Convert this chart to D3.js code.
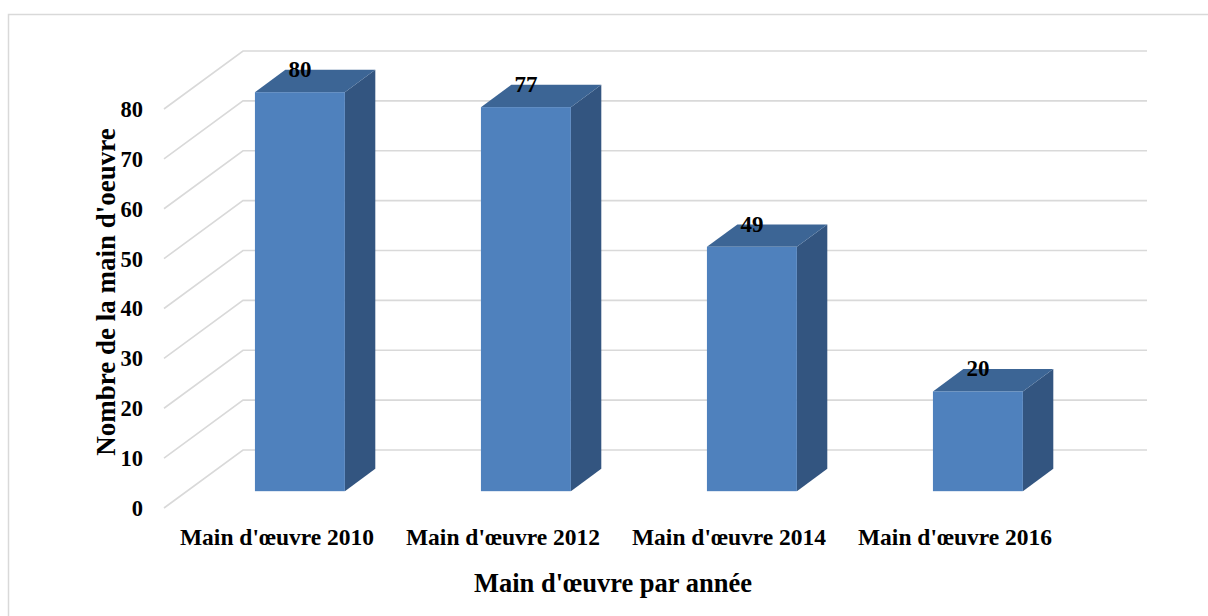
<!DOCTYPE html>
<html>
<head>
<meta charset="utf-8">
<script src="https://cdn.jsdelivr.net/npm/d3@7"></script>
<style>
  html, body { margin: 0; padding: 0; background: #fff; }
  svg { display: block; }
  text { font-family: "Liberation Serif", "Times New Roman", serif; font-weight: bold; fill: #000; }
</style>
</head>
<body>
<svg id="chart" width="1208" height="616"></svg>
<script>
const categories = ["Main d'œuvre 2010", "Main d'œuvre 2012", "Main d'œuvre 2014", "Main d'œuvre 2016"];
const values = [80, 77, 49, 20];
const tickValues = [0, 10, 20, 30, 40, 50, 60, 70, 80];
const yTitle = "Nombre de la main d'oeuvre";
const xTitle = "Main d'œuvre par année";

const W = 1208, H = 616;
const svg = d3.select("#chart");

// outer chart frame
svg.append("rect").attr("x", 8.5).attr("y", 14.5).attr("width", W).attr("height", H)
  .attr("fill", "none").attr("stroke", "#d9d9d9").attr("stroke-width", 1.5);

// 3D projection: depth offset
const DX = 79, DY = -58;
const floorLeft = 164, wallRight = 1147;
const y = d3.scaleLinear().domain([0, 80]).range([508, 109]);
const x = d3.scaleBand().domain(categories).range([floorLeft, wallRight - DX]).padding(0);
const proj = (px, py, z) => [px + z * DX, py + z * DY];

const grid = svg.append("g");
tickValues.forEach(v => {
  const [bx, by] = proj(floorLeft, y(v), 1);
  grid.append("path")
    .attr("d", d3.line()([[floorLeft, y(v)], [bx, by], [wallRight, by]]))
    .attr("fill", "none").attr("stroke", "#d9d9d9").attr("stroke-width", 1.6);
});

// y tick labels
svg.append("g").selectAll("text").data(tickValues).join("text")
  .attr("x", 143).attr("y", d => y(d)).attr("dy", "0.35em")
  .attr("text-anchor", "end").attr("font-size", 22.5).text(d => d);

// bars
const z0 = 0.29, z1 = 0.675;
const barFrac = 0.398;
const bw = x.bandwidth() * barFrac;
const bars = svg.append("g");
categories.forEach((c, i) => {
  const cx = x(c) + x.bandwidth() / 2;
  const [fx, fyb] = proj(cx - bw / 2, y(0), z0);
  const fyt = proj(0, y(values[i]), z0)[1];
  const ddx = (z1 - z0) * DX, ddy = (z1 - z0) * DY;
  // side
  bars.append("path").attr("d", d3.line()([[fx + bw, fyt], [fx + bw + ddx, fyt + ddy], [fx + bw + ddx, fyb + ddy], [fx + bw, fyb]]) + "Z")
    .attr("fill", "#335580");
  // top
  bars.append("path").attr("d", d3.line()([[fx, fyt], [fx + ddx, fyt + ddy], [fx + bw + ddx, fyt + ddy], [fx + bw, fyt]]) + "Z")
    .attr("fill", "#3c6595");
  // front
  bars.append("rect").attr("x", fx).attr("y", fyt).attr("width", bw).attr("height", fyb - fyt)
    .attr("fill", "#4f81bd");
  // value label
  bars.append("text").attr("x", fx + bw / 2).attr("y", fyt - 15)
    .attr("text-anchor", "middle").attr("font-size", 23).text(values[i]);
});

// category labels
svg.append("g").selectAll("text").data(categories).join("text")
  .attr("x", d => x(d) + x.bandwidth() / 2).attr("y", 545)
  .attr("text-anchor", "middle").attr("font-size", 23.5).text(d => d);

// axis titles
svg.append("text").attr("x", 613).attr("y", 592)
  .attr("text-anchor", "middle").attr("font-size", 26.5).text(xTitle);
svg.append("text").attr("transform", "translate(115,292) rotate(-90)")
  .attr("text-anchor", "middle").attr("font-size", 27).text(yTitle);
</script>
</body>
</html>
